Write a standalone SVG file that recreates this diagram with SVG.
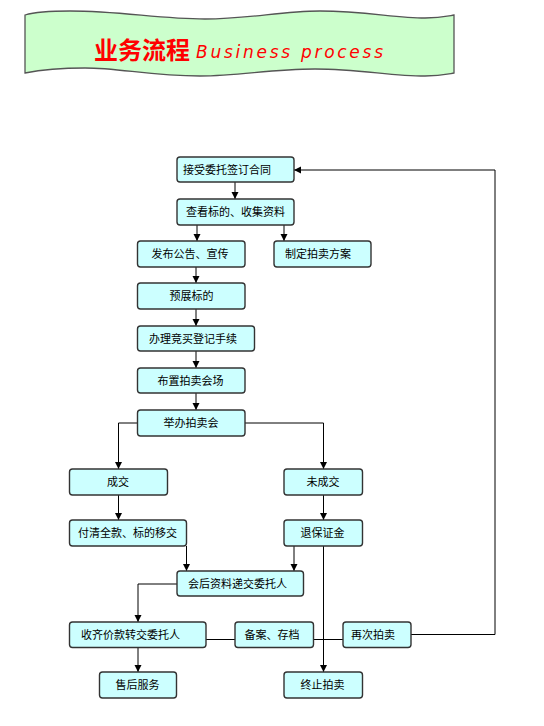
<svg xmlns="http://www.w3.org/2000/svg" width="544" height="726" viewBox="0 0 544 726">
<defs>
<marker id="arr" markerWidth="8" markerHeight="8" refX="7" refY="4" orient="auto" markerUnits="userSpaceOnUse">
<path d="M0,0.5 L7,4 L0,7.5 Z" fill="#000"/>
</marker>
<style>
.n rect{fill:#CCFFFF;stroke:#333;stroke-width:1.4}
.n text{font-family:"Noto Sans CJK SC","Noto Sans",sans-serif;font-size:11px;fill:#000;text-anchor:middle}
.c path{fill:none;stroke:#000;stroke-width:1}
.a{marker-end:url(#arr)}
</style>
</defs>
<rect width="544" height="726" fill="#fff"/>
<g id="banner">
<path d="M25,15 C35,12 50,11 70,11 C120,11 160,19 205,19 C250,19 280,11 320,11 C365,11 395,18 425,18 C440,18 448,16 454,15 L454,73 C448,74 440,76 425,76 C390,76 360,69 315,69 C270,69 240,76 200,76 C150,76 120,68 85,68 C60,68 40,70 25,73 Z" fill="#CCFFCC" stroke="#555" stroke-width="1.3"/>
<text x="94" y="59" font-family="'Noto Sans CJK SC','Noto Sans',sans-serif" font-size="24" font-weight="700" fill="#FF0000">业务流程</text>
<text x="196" y="58" font-family="'DejaVu Sans',sans-serif" font-style="italic" font-weight="200" font-size="17" fill="#FF0000" textLength="187" lengthAdjust="spacing">Business process</text>
</g>
<g id="connectors" class="c">
<path class="a" d="M235,182 V199"/>
<path class="a" d="M197,225 V241"/>
<path class="a" d="M284,225 V241"/>
<path class="a" d="M196,267 V283"/>
<path class="a" d="M196,309 V326"/>
<path class="a" d="M196,351 V368"/>
<path class="a" d="M196,393 V410"/>
<path class="a" d="M138,423 H118.5 V469"/>
<path class="a" d="M245,423 H323.5 V469"/>
<path class="a" d="M118.5,495 V520"/>
<path class="a" d="M323.5,495 V520"/>
<path class="a" d="M186.5,546 V571"/>
<path class="a" d="M294,546 V571"/>
<path class="a" d="M177,584 H138 V622"/>
<path class="a" d="M138,647 V672"/>
<path class="a" d="M323.5,546 V672"/>
<path d="M206,639.5 H235"/>
<path d="M313,639.5 H343"/>
<path class="a" d="M411,634.5 H495 V170 H294"/>
</g>
<g id="n1" class="n"><rect x="177" y="157" width="117" height="25" rx="3"/><text x="227" y="174">接受委托签订合同</text></g>
<g id="n2" class="n"><rect x="177" y="199" width="117" height="26" rx="3"/><text x="235.5" y="216">查看标的、收集资料</text></g>
<g id="n3" class="n"><rect x="137.5" y="241" width="107.5" height="26" rx="3"/><text x="190" y="258">发布公告、宣传</text></g>
<g id="n4" class="n"><rect x="274" y="241" width="97" height="26" rx="3"/><text x="318" y="258">制定拍卖方案</text></g>
<g id="n5" class="n"><rect x="137.5" y="283" width="107.5" height="26" rx="3"/><text x="191.5" y="300">预展标的</text></g>
<g id="n6" class="n"><rect x="137.5" y="326" width="117" height="25" rx="3"/><text x="193" y="342.5">办理竞买登记手续</text></g>
<g id="n7" class="n"><rect x="137.5" y="368" width="107.5" height="25" rx="3"/><text x="190.5" y="385">布置拍卖会场</text></g>
<g id="n8" class="n"><rect x="137.5" y="410" width="107.5" height="26" rx="3"/><text x="191" y="427">举办拍卖会</text></g>
<g id="n9" class="n"><rect x="69.5" y="469" width="98" height="26" rx="3"/><text x="118" y="486">成交</text></g>
<g id="n10" class="n"><rect x="284" y="469" width="78.5" height="26" rx="3"/><text x="323" y="486">未成交</text></g>
<g id="n11" class="n"><rect x="69.5" y="520" width="117" height="26" rx="3"/><text x="127.5" y="537">付清全款、标的移交</text></g>
<g id="n12" class="n"><rect x="284" y="520" width="78.5" height="26" rx="3"/><text x="322.5" y="537">退保证金</text></g>
<g id="n13" class="n"><rect x="177" y="571" width="126.5" height="25" rx="3"/><text x="237.5" y="588">会后资料递交委托人</text></g>
<g id="n14" class="n"><rect x="69.5" y="622" width="136.5" height="25.5" rx="3"/><text x="130.5" y="638.5">收齐价款转交委托人</text></g>
<g id="n15" class="n"><rect x="235" y="622" width="78.5" height="25.5" rx="3"/><text x="272" y="638.5">备案、存档</text></g>
<g id="n16" class="n"><rect x="343" y="622" width="68" height="25.5" rx="3"/><text x="373" y="638.5">再次拍卖</text></g>
<g id="n17" class="n"><rect x="99.5" y="672" width="77" height="26" rx="3"/><text x="137.5" y="689">售后服务</text></g>
<g id="n18" class="n"><rect x="284" y="672" width="78.5" height="26" rx="3"/><text x="322.5" y="689">终止拍卖</text></g>
</svg>
